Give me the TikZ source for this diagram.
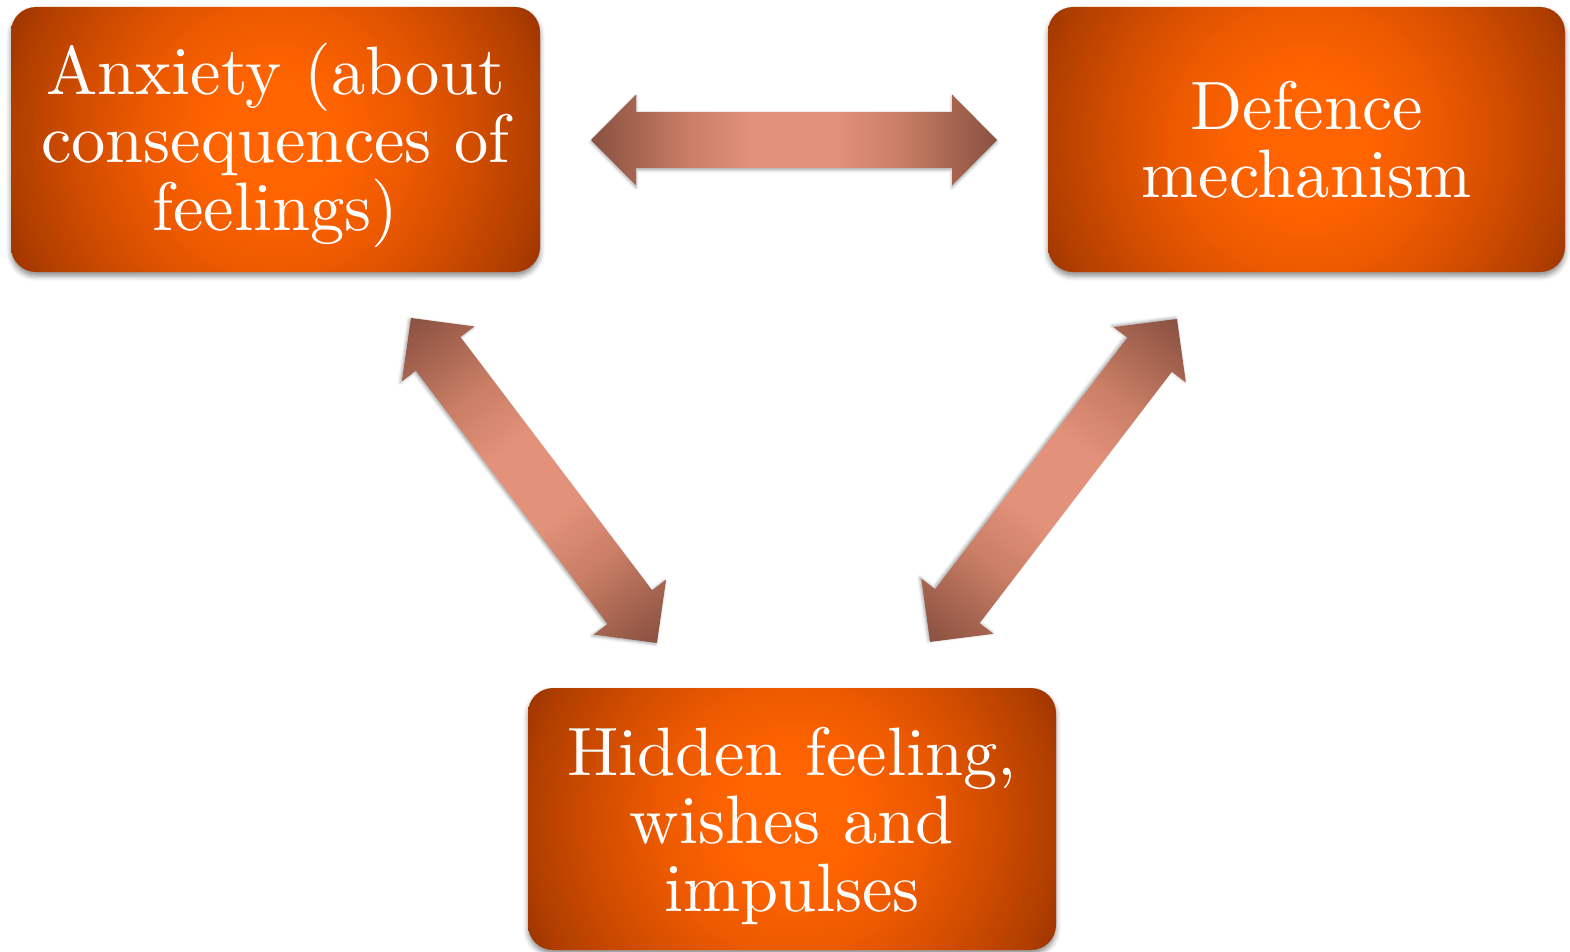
\documentclass[tikz,border=0pt]{standalone}
\usepackage{fontspec}
% the 10pt design of Latin Modern at every size (wider, sturdier strokes)
\setmainfont{lmroman10-regular}[Extension=.otf]
\usetikzlibrary{shadows.blur,calc}

% box glow colours, from centre outwards
\definecolor{boxcore}{HTML}{FF6400}
\definecolor{boxinner}{HTML}{EE5A00}
\definecolor{boxmid}{HTML}{D04C00}
\definecolor{boxside}{HTML}{B03E00}
\definecolor{boxcorner}{HTML}{9A3300}
% arrow colours, from the tips towards the middle
\definecolor{arrowend}{HTML}{8A5141}
\definecolor{arrowhead}{HTML}{A4634F}
\definecolor{arrowmid}{HTML}{C97E65}
\definecolor{arrowlight}{HTML}{E3917A}

% round glow; 25bp is the reach of a box corner
\pgfdeclareradialshading{boxglow}{\pgfpoint{0bp}{0bp}}{%
  color(0bp)=(boxcore); color(5bp)=(boxcore); color(11bp)=(boxinner);
  color(17bp)=(boxmid); color(22.4bp)=(boxside); color(25bp)=(boxcorner);
  color(50bp)=(boxcorner)}
% light in the middle of an arrow, dark at both tips
\pgfdeclarehorizontalshading{arrowglow}{100bp}{%
  color(0bp)=(arrowend); color(25bp)=(arrowend); color(30bp)=(arrowhead);
  color(37bp)=(arrowmid); color(45bp)=(arrowlight); color(55bp)=(arrowlight);
  color(63bp)=(arrowmid); color(70bp)=(arrowhead); color(75bp)=(arrowend);
  color(100bp)=(arrowend)}

% tall strut that lowers a text block inside its box
\newcommand\lowerstrut{\rule{0pt}{63pt}}

\tikzset{
  glowbox/.style={
    rounded corners=25pt, inner sep=0pt, align=center, text=white,
    font=\fontsize{68.5}{68}\selectfont,
    blur shadow={shadow xshift=0pt, shadow yshift=-4pt,
                 shadow blur radius=5pt, shadow opacity=45},
    path picture={\shade[shading=boxglow]
      (path picture bounding box.center) circle[radius=296pt];}},
  arrowbody/.style={shading=arrowglow,
    blur shadow={shadow xshift=0pt, shadow yshift=-2pt,
                 shadow blur radius=3pt, shadow opacity=35}}
}

% double-headed block arrow from tip #1 to tip #2
\newcommand\blockarrow[2]{%
  \path (#1); \pgfgetlastxy{\bax}{\bay}%
  \path (#2); \pgfgetlastxy{\bbx}{\bby}%
  \pgfmathsetmacro\barang{atan2((\bby)-(\bay),(\bbx)-(\bax))}%
  \pgfmathsetmacro\barlen{veclen((\bbx)-(\bax),(\bby)-(\bay))}%
  \begin{scope}[transform canvas={shift={(\bax,\bay)},rotate=\barang}]
    \path[arrowbody] (0pt,0pt) -- (45pt,45.5pt) -- (45pt,28pt)
      -- (\barlen pt-45pt,28pt) -- (\barlen pt-45pt,45.5pt) -- (\barlen pt,0pt)
      -- (\barlen pt-45pt,-45.5pt) -- (\barlen pt-45pt,-28pt)
      -- (45pt,-28pt) -- (45pt,-45.5pt) -- cycle;
  \end{scope}}

\begin{document}
\begin{tikzpicture}[x=1pt,y=-1pt]
  \useasboundingbox (0,0) rectangle (1570,952);

  \node[glowbox, minimum width=529pt, minimum height=265pt] (anx)
    at (275.5,139.5) {\lowerstrut Anxiety (about\\consequences of\\feelings)};
  \node[glowbox, minimum width=517pt, minimum height=265pt] (def)
    at (1306.5,139.5) {Defence\\mechanism};
  \node[glowbox, minimum width=528pt, minimum height=262pt] (hid)
    at (792,819) {\lowerstrut Hidden feeling,\\wishes and\\impulses};

  % arrow tips between the boxes
  \coordinate (ad1) at (591,140);
  \coordinate (ad2) at (997,140);
  \coordinate (ah1) at (411,318);
  \coordinate (ah2) at (657,643);
  \coordinate (dh1) at (1177,319);
  \coordinate (dh2) at (930,642);

  \blockarrow{ad1}{ad2}
  \blockarrow{ah1}{ah2}
  \blockarrow{dh1}{dh2}
\end{tikzpicture}
\end{document}
